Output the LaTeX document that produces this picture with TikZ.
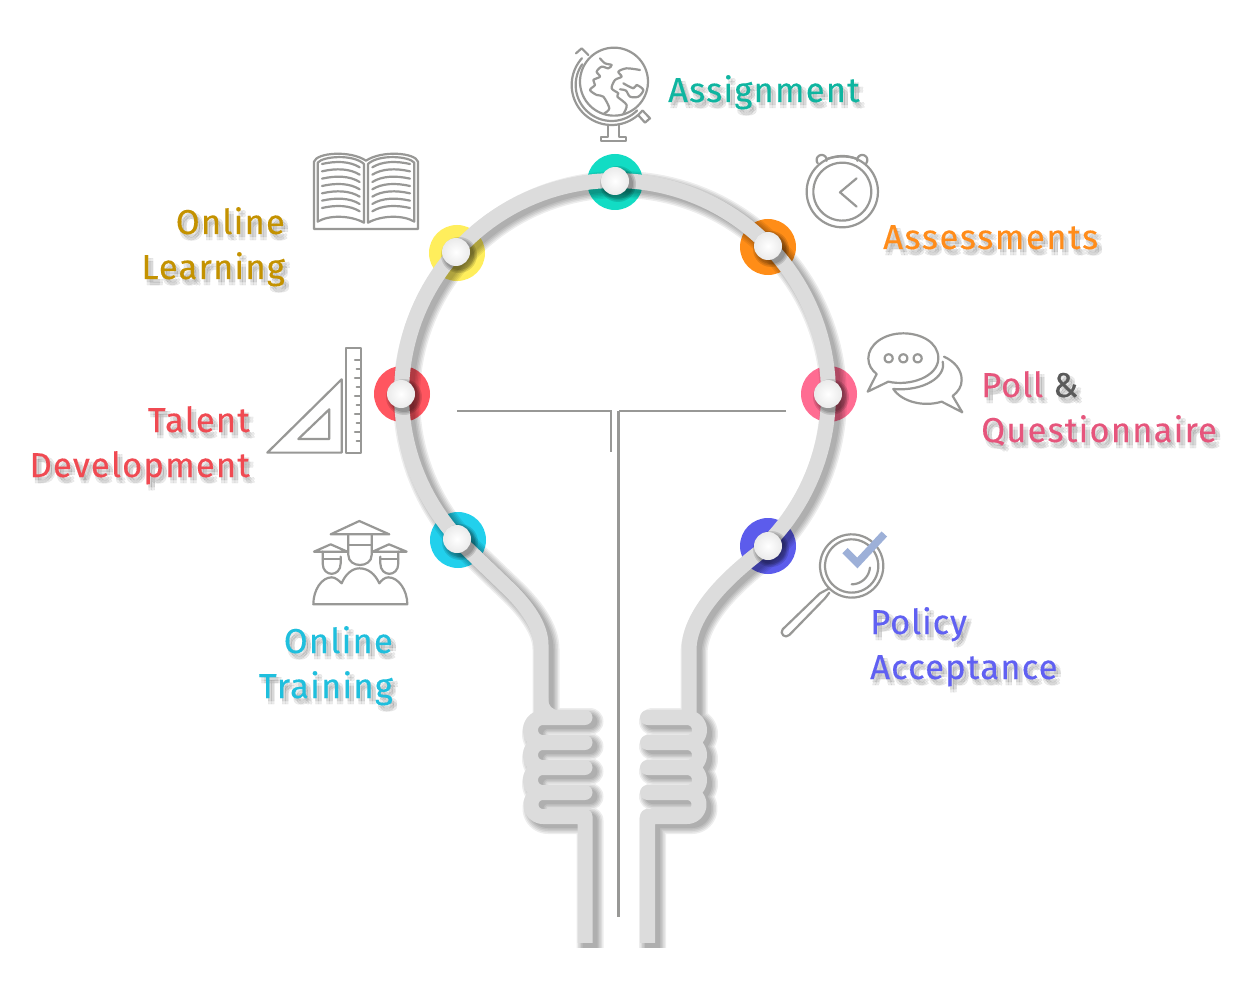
\documentclass[tikz,border=0pt]{standalone}
\usepackage{fontspec}
\setmainfont{Fira Sans}[LetterSpace=3.5,FakeBold=0.25]
\usetikzlibrary{calc}
\definecolor{stripc}{HTML}{DCDCDC}
\definecolor{iconc}{HTML}{989896}
\definecolor{ampgray}{HTML}{5A5A5A}
\definecolor{checkc}{HTML}{9DB0D8}
\definecolor{tTeal}{HTML}{0FB5A0}
\definecolor{tOrange}{HTML}{FF8C1A}
\definecolor{tPink}{HTML}{E6557C}
\definecolor{tBlue}{HTML}{6060F2}
\definecolor{tCyan}{HTML}{1FBFDD}
\definecolor{tRed}{HTML}{F04A52}
\definecolor{tGold}{HTML}{C49200}
\definecolor{dTeal}{HTML}{12DCC4}
\definecolor{dOrange}{HTML}{FF8D17}
\definecolor{dYellow}{HTML}{FFEE5C}
\definecolor{dRed}{HTML}{FF5660}
\definecolor{dPink}{HTML}{FF6C92}
\definecolor{dBlue}{HTML}{5C5CEC}
\definecolor{dCyan}{HTML}{22D0EC}
\tikzset{
  icon/.style={draw=iconc,line width=2.2pt,line join=round,line cap=round},
  stem/.style={draw=iconc,line width=2.2pt},
  lab/.style={inner sep=0pt,align=#1,font=\fontsize{34.5}{45}\selectfont},
  lab/.default=left
}
\newcommand\Arc[5]{plot[domain=#4:#5,samples=48,smooth] ({#1+#3*cos(\x)},{#2+#3*sin(\x)})}
\newcommand\HpL[1]{(585,#1-12.5) -- (543,#1-12.5) -- plot[domain=270:90,samples=24] ({543+12.5*cos(\x)},{#1+12.5*sin(\x)}) -- (585,#1+12.5)}
\newcommand\HpR[1]{(647.5,#1-12.5) -- (687,#1-12.5) -- plot[domain=-90:90,samples=24] ({687+12.5*cos(\x)},{#1+12.5*sin(\x)}) -- (647.5,#1+12.5)}
\newcommand\StripPath{
  (585,950) -- (585,816.5) -- (543,816.5) -- plot[domain=90:270,samples=24] ({543+12*cos(\x)},{804.5+12*sin(\x)})
  \HpL{780} \HpL{755} \HpL{730}
  (647.5,950) -- (647.5,816.5) -- (687,816.5) -- plot[domain=90:-90,samples=24] ({687+12*cos(\x)},{804.5+12*sin(\x)})
  \HpR{780} \HpR{755} \HpR{730}
  (541,717.5) -- (541,645) .. controls (541,625) and (525,605) .. (510,590) -- (457,539)
  -- plot[domain=137.5:404.8,samples=120] ({615+213.5*cos(\x)},{394+213.5*sin(\x)})
  -- (768,546) .. controls (735,570) and (689,610) .. (689,650) -- (689,717.5)
}
\newcommand\Lbl[6]{% name, x, baseline-anchor, colour, align, text
  \foreach \dx/\dy [count=\k] in {2/3,5/3,2/6,5/6}{
    \node[lab=#5,anchor=#3,text=black,text opacity=.08] (#1s\k) at ($(#2)+(\dx,\dy)$) {\colorlet{ampc}{black}#6};
  }
  \node[lab=#5,anchor=#3,text=#4] (#1) at (#2) {\colorlet{ampc}{ampgray}#6};
}
\begin{document}
\begin{tikzpicture}[x=1pt,y=-1pt,line cap=butt]
\useasboundingbox (0,0) rectangle (1260,992);
\fill[white] (0,0) rectangle (1260,992);
% inner filament
\draw[stem] (457,411) -- (611,411) -- (611,452);
\draw[stem] (786,411) -- (618.5,411);
\draw[stem] (618.5,411) -- (618.5,917);
% colour discs
\foreach \cx/\cy/\cc in {615/182/dTeal,768/247/dOrange,457/253/dYellow,402/394/dRed,829/394/dPink,768/546/dBlue,458/540/dCyan}{
  \fill[\cc] (\cx,\cy) circle[radius=28pt];
}
% strip shadow and strip
\begin{scope}
\clip (0,0) rectangle (1260,947);
\begin{scope}[shift={(5,4)}]
\foreach \w in {27,24,21,18,15}{
  \draw[black,opacity=.07,line width=\w pt,line cap=round,line join=round] \StripPath;
}
\end{scope}
\end{scope}
\begin{scope}
\clip (0,0) rectangle (1260,942);
\draw[stripc,line width=15pt,line cap=round,line join=round] \StripPath;
\fill[stripc] (548,698) .. controls (548,706) and (552,710) .. (560,710.5) -- (545,712) -- cycle;
\end{scope}
% balls
\foreach \cx/\cy in {615/181,768/246,456/252,401/394,828/394,768/546,457/539}{
  \foreach \r in {18,16.5,15}{\fill[black,opacity=.12] (\cx+3,\cy+3) circle[radius=\r pt];}
  \shade[inner color=white,outer color=black!8] (\cx,\cy) circle[radius=14pt];
}
% globe
\begin{scope}[shift={(540,30)},x=.3333pt,y=-.3333pt]
\draw[icon] \Arc{222}{155}{102}{0}{360};
\draw[icon] \Arc{215}{165}{120}{40}{222};
\draw[icon] \Arc{215}{165}{108}{45}{215};
\draw[icon] (108,70) -- (125,55) -- (145,75);
\draw[icon] (308,242) -- (330,265) -- (315,278) -- (297,258);
\draw[icon] (205,285) -- (205,320) -- (183,320) -- (183,332) -- (258,332) -- (258,320) -- (238,320) -- (238,283);
\draw[icon] plot[smooth,tension=.5] coordinates {(180,85) (195,100) (215,105) (205,115) (185,110) (170,125) (180,140) (160,150) (165,165) (150,180) (170,195) (190,200) (208,235) (193,250)};
\draw[icon] plot[smooth,tension=.5] coordinates {(300,120) (260,115) (235,125) (245,140) (225,150) (215,175) (235,190) (232,200) (260,225) (250,252)};
\draw[icon] plot[smooth,tension=.5] coordinates {(250,160) (280,175) (290,165) (310,180) (295,200) (270,200) (258,182) (240,178)};
\end{scope}
% clock
\begin{scope}[shift={(540,30)},x=.3333pt,y=-.3333pt]
\draw[icon] \Arc{907}{485}{107}{0}{360};
\draw[icon] \Arc{907}{485}{87}{0}{360};
\draw[icon] (950,445) -- (900,487) -- (950,530);
\draw[icon] \Arc{845}{390}{15}{140}{370};
\draw[icon] \Arc{967}{390}{15}{170}{400};
\draw[icon] (860,387) .. controls (890,377) and (925,377) .. (952,387);
\end{scope}
% book
\begin{scope}[shift={(260,140)},x=.3333pt,y=-.3333pt]
\draw[icon] (162,267) -- (474,267) -- (474,65) .. controls (466,38) and (366,30) .. (318,62) .. controls (270,30) and (170,38) .. (162,65) -- cycle;
\draw[icon] (173,245) -- (173,68) .. controls (190,48) and (280,42) .. (312,72) -- (312,248) .. controls (270,225) and (205,225) .. (173,245);
\draw[icon] (463,245) -- (463,68) .. controls (446,48) and (356,42) .. (324,72) -- (324,248) .. controls (366,225) and (431,225) .. (463,245);
\foreach \y in {72,94,116,138,160,182,204}{
  \draw[icon] (186,\y) .. controls (230,\y-10) and (270,\y-8) .. (299,\y+10);
  \draw[icon] (450,\y) .. controls (406,\y-10) and (366,\y-8) .. (337,\y+10);
}
% set squares
\draw[icon] (22,938) -- (245,718) -- (245,938) -- cycle;
\draw[icon] (115,897) -- (208,808) -- (208,897) -- cycle;
\draw[icon] (258,624) rectangle (302,938);
\foreach \y/\l in {660/285,687/290,714/285,741/290,768/285,795/290,822/285,849/290,876/285,903/290}{
  \draw[icon] (302,\y) -- (\l,\y);
}
\end{scope}
% chat and magnifier
\begin{scope}[shift={(770,320)},x=.3333pt,y=-.3333pt]
\draw[icon] (355,185) .. controls (420,200) and (505,170) .. (505,115) .. controls (505,65) and (450,40) .. (400,40) .. controls (340,40) and (295,75) .. (295,115) .. controls (295,135) and (305,150) .. (320,162) -- (293,215) -- cycle;
\draw[icon] \Arc{400}{115}{12}{0}{360};
\draw[icon] \Arc{356}{115}{12}{0}{360};
\draw[icon] \Arc{443}{115}{12}{0}{360};
\draw[icon] (522,110) .. controls (555,125) and (575,150) .. (575,180) .. controls (575,200) and (565,215) .. (548,228) -- (577,277) -- (515,245) .. controls (460,262) and (395,245) .. (370,207);
\draw[icon] (518,125) .. controls (530,170) and (460,215) .. (370,207);
\draw[icon] \Arc{245}{738}{95}{0}{360};
\draw[icon] \Arc{245}{738}{80}{0}{360};
\draw[icon] \Arc{245}{738}{55}{5}{90};
\draw[icon] (178,805) -- (150,820) -- (38,928) .. controls (28,940) and (45,958) .. (58,945) -- (165,835) -- (178,818);
\draw[checkc,line width=7.5pt,line cap=butt,line join=miter] (225,692) -- (262,729) -- (343,642);
\end{scope}
% graduates
\begin{scope}[shift={(290,500)},x=.3333pt,y=-.3333pt]
\draw[icon] (122,103) -- (208,63) -- (298,103) -- cycle;
\draw[icon] (175,103) -- (175,165) .. controls (175,205) and (245,205) .. (245,165) -- (245,103);
\draw[icon] (175,136) -- (245,136);
\draw[icon] (72,155) -- (122,133) -- (172,155) -- cycle;
\draw[icon] (98,155) -- (98,190) .. controls (98,232) and (152,232) .. (152,190) -- (152,170);
\draw[icon] (98,178) -- (152,178);
\draw[icon] (350,155) -- (297,133) -- (248,155) -- cycle;
\draw[icon] (325,155) -- (325,190) .. controls (325,232) and (271,232) .. (271,190) -- (271,170);
\draw[icon] (271,178) -- (325,178);
\draw[icon] (70,313) -- (352,313) .. controls (352,270) and (325,232) .. (295,232) .. controls (285,232) and (275,240) .. (268,250) .. controls (255,222) and (235,205) .. (208,205) .. controls (185,205) and (165,225) .. (155,250) .. controls (145,240) and (135,232) .. (125,232) .. controls (95,232) and (70,270) .. (70,313) -- cycle;
\end{scope}
% labels
\Lbl{assign}{668,102}{base west}{tTeal}{left}{Assignment}
\Lbl{assess}{883,249}{base west}{tOrange}{left}{\addfontfeature{LetterSpace=4.5}Assessments}
\Lbl{poll}{981,442}{base west}{tPink}{left}{\addfontfeature{LetterSpace=2.5}Poll \textcolor{ampc}{\&}\\Questionnaire}
\Lbl{policy}{870,679}{base west}{tBlue}{left}{\addfontfeature{LetterSpace=2.5}Policy\\Acceptance}
\Lbl{learn}{285,279}{base east}{tGold}{right}{Online\\Learning}
\Lbl{talent}{250,477}{base east}{tRed}{right}{Talent\\Development}
\Lbl{train}{393,698}{base east}{tCyan}{right}{Online\\Training}
\end{tikzpicture}
\end{document}
